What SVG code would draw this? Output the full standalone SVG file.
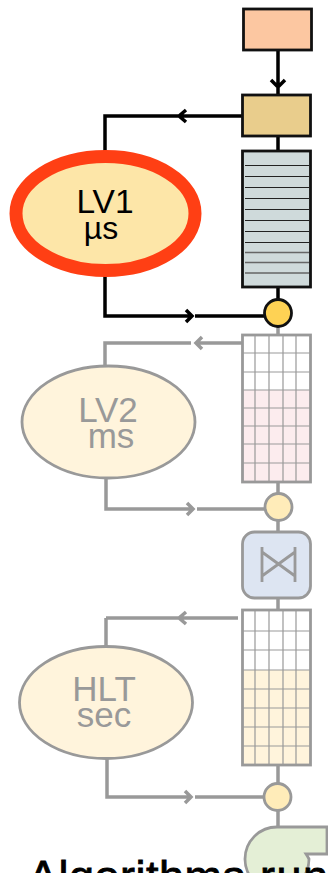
<svg xmlns="http://www.w3.org/2000/svg" width="328" height="873" viewBox="0 0 328 873">
<style>
text{font-family:"Liberation Sans",Arial,sans-serif;text-anchor:middle}
.k{stroke:#000;fill:none;stroke-width:3.500}
.g{stroke:#999;fill:none;stroke-width:3.500}
.kn{stroke:#111;stroke-width:2.800}
.gn{stroke:#999;stroke-width:2.800}
.gl{stroke:#999;stroke-width:1.200;fill:none}
.big{font-size:35px}
</style>
<rect width="328" height="873" fill="#fff"/>
<g id="connectors">
<path class="k" d="M278 50V95M271 80L278 87L285 80"/>
<path class="k" d="M278 135V152"/>
<path class="k" d="M243 116H105V152M186 110L179 116L186 122"/>
<path class="k" d="M105 276V316H192M186 310L192 316L186 322M195 316H264"/>
<path class="k" d="M278 287V300"/>
<path class="g" d="M278 326V336"/>
<path class="g" d="M191 343H105V367M202 337L196 343L202 349M196 343H243"/>
<path class="g" d="M106 478V509H193M187 503L193 509L187 515M197 509H265"/>
<path class="g" d="M278 483V494M278 520V532M278 598V611"/>
<path class="g" d="M106 618V652M238 618H106M186 612L179 618L186 624"/>
<path class="g" d="M107 758V797H191M185 791L191 797L185 803M195 797H264"/>
<path class="g" d="M278 765V784M278 810V827"/>
</g>
<g id="source"><rect x="243.500" y="9" width="68" height="41" fill="#fcc7a1" class="kn"/></g>
<g id="control"><rect x="242.500" y="95" width="68" height="41" fill="#e9cd8c" class="kn"/></g>
<g id="buffer1">
<rect x="242.500" y="151" width="68" height="136" fill="#cfdadb" class="kn"/>
<path stroke="#222" stroke-width="1.200" fill="none" d="M245 165.500H309M245 176.500H309M245 187.500H309M245 198.500H309M245 209.500H309M245 220.500H309M245 231.500H309M245 242.500H309"/>
<path stroke="#666" stroke-width="1.500" fill="none" d="M245 252.500H309M245 262.500H309M245 273H309"/>
</g>
<g id="merge1"><circle cx="278" cy="313" r="13.500" fill="#fed254" class="kn"/></g>
<g id="lv1"><ellipse cx="105.500" cy="213.500" rx="89.500" ry="57" fill="#fde6a8" stroke="#ff3f14" stroke-width="13"/>
<text x="105" y="213" fill="#000" style="font-size:33.500px">LV1</text><text x="101" y="239" fill="#000" style="font-size:32px">µs</text></g>
<g id="buffer2">
<rect x="242.500" y="390" width="68" height="92" fill="#fcecee"/>
<path class="gl" d="M255 335V482M269 335V482M283 335V482M296 335V482M243 353H310M243 372H310M243 390H310M243 408H310M243 426H310M243 444H310M243 463H310"/>
<rect x="242.500" y="335" width="68" height="147" fill="none" class="gn"/>
</g>
<g id="merge2"><circle cx="278.500" cy="507" r="13.500" fill="#ffecb9" class="gn"/></g>
<g id="lv2"><ellipse cx="108.500" cy="422" rx="86.500" ry="56" fill="#fff4dc" class="gn"/>
<text x="108" y="421.500" class="big" fill="#999">LV2</text><text x="111" y="448" class="big" fill="#999">ms</text></g>
<g id="valve"><rect x="242.500" y="532" width="68" height="66" rx="12" fill="#dde5f2" class="gn"/>
<path class="gn" fill="none" d="M262 547V582M295 547V582M262 552L295 576M295 552L262 576"/></g>
<g id="buffer3">
<rect x="242.500" y="670" width="68" height="95" fill="#fff4dc"/>
<path class="gl" d="M255 610V765M269 610V765M283 610V765M296 610V765M243 631H310M243 650H310M243 670H310M243 689H310M243 708H310M243 727H310M243 746H310"/>
<rect x="242.500" y="610" width="68" height="155" fill="none" class="gn"/>
</g>
<g id="merge3"><circle cx="277.500" cy="797" r="13.500" fill="#ffecb9" class="gn"/></g>
<g id="hlt"><ellipse cx="106" cy="702.500" rx="86.500" ry="56" fill="#fff4dc" class="gn"/>
<text x="104" y="701" class="big" fill="#999">HLT</text><text x="104" y="727" class="big" fill="#999">sec</text></g>
<g id="pump"><path d="M277 827H327V854H306Q308 857 309 859A32 32 0 1 1 277 827Z" fill="#e4efd6" class="gn"/></g>
<text x="28" y="892" style="font-size:45px;text-anchor:start;stroke:#000;stroke-width:.8;letter-spacing:.5px" fill="#000">Algorithms <tspan x="260" style="letter-spacing:1.500px">run</tspan></text>
</svg>
